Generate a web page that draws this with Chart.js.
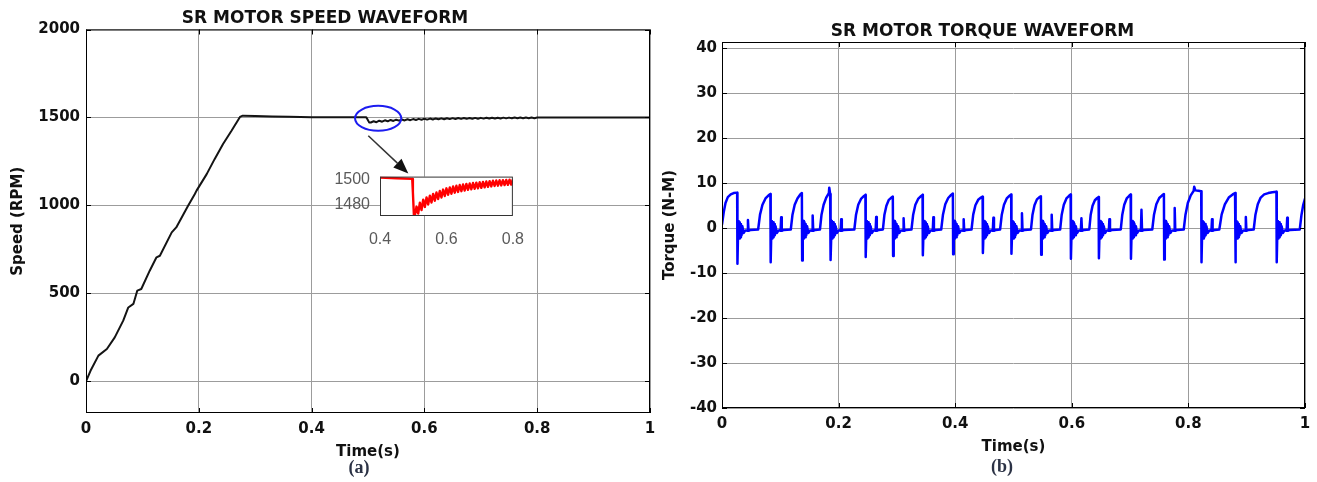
<!DOCTYPE html>
<html>
<head>
<meta charset="utf-8">
<title>SR motor speed and torque</title>
<script src="https://cdn.jsdelivr.net/npm/chart.js@4.4.1/dist/chart.umd.min.js"></script>
<style>
  html, body { margin: 0; padding: 0; background: #fff; overflow: hidden; }
  body { width: 1317px; height: 482px; position: relative; }
  canvas { position: absolute; }
  #speed_chart { left: 0; top: 0; }
  #torque_chart { left: 660px; top: 0; }
  #inset_chart { left: 330px; top: 165px; }
  .caption { position: absolute; font: bold 18px "Liberation Serif", serif; color: #2b3245;
             transform: translate(-50%, -50%); white-space: nowrap; }
</style>
</head>
<body>
<canvas id="speed_chart" width="736" height="482"></canvas>
<canvas id="torque_chart" width="707" height="482"></canvas>
<canvas id="inset_chart" width="200" height="80"></canvas>
<div class="caption" style="left:359px; top:467px;">(a)</div>
<div class="caption" style="left:1002px; top:466px;">(b)</div>
<script>
// SR motor speed (a) and torque (b) waveforms

Chart.defaults.font.family = '"DejaVu Sans", Verdana, sans-serif';

const timeTicks = [0, 0.2, 0.4, 0.6, 0.8, 1];
const speedTicks = [0, 500, 1000, 1500, 2000];
const torqueTicks = [-40, -30, -20, -10, 0, 10, 20, 30, 40];
const insetTimeTicks = [0.4, 0.6, 0.8];
const insetSpeedTicks = [1480, 1500];

// speed (rpm) vs time (s)
const speedRamp = [[0,0],[0.008,60],[0.022,146],[0.037,184],[0.051,250],[0.066,345],[0.075,420],
  [0.084,440],[0.091,516],[0.098,525],[0.113,629],[0.125,705],[0.131,714],[0.152,847],[0.160,875],
  [0.181,998],[0.193,1065],[0.196,1084],[0.214,1178],[0.228,1263],[0.243,1349],[0.258,1424],[0.273,1503]];
const speedFlat = [[0.278,1510],[0.30,1508],[0.33,1506],[0.36,1504],[0.38,1503]];
// load step at 0.5 s, also shown in the inset
const loadStep = [[0.40,1501.5],[0.45,1501],[0.497,1500.5],[0.499,1490],[0.502,1472],[0.505,1471.5],
  [0.510,1478.5],[0.515,1473],[0.520,1481.5],[0.525,1475.8],[0.530,1484],[0.535,1478.2],[0.540,1485.8],
  [0.545,1480.1],[0.550,1487.2],[0.555,1481.7],[0.560,1488.6],[0.565,1483.1],[0.570,1489.7],[0.575,1484.5],
  [0.580,1490.9],[0.585,1485.7],[0.590,1492],[0.595,1486.9],[0.600,1493],[0.605,1487.9],[0.610,1493.7],
  [0.615,1488.7],[0.620,1494.5],[0.625,1489.5],[0.630,1495],[0.635,1490.1],[0.640,1495.6],[0.645,1490.7],
  [0.650,1496],[0.655,1491.2],[0.660,1496.5],[0.665,1491.8],[0.670,1496.8],[0.675,1492.2],[0.680,1497.2],
  [0.685,1492.6],[0.690,1497.5],[0.695,1493],[0.700,1497.8],[0.705,1493.4],[0.710,1498.1],[0.715,1493.8],
  [0.720,1498.4],[0.725,1494.2],[0.730,1498.7],[0.735,1494.5],[0.740,1499],[0.745,1494.9],[0.750,1499.2],
  [0.755,1495.1],[0.760,1499.4],[0.765,1495.3],[0.770,1499.5],[0.775,1495.6],[0.780,1499.7],[0.785,1495.8],
  [0.790,1499.9],[0.795,1496],[0.800,1500]];
const speedTail = [[0.85,1500],[0.90,1500],[1.0,1500]];

// torque (N-m) vs time (s)
const torquePts = [
  [0,0.8],[0.003,3.6],[0.006,5.6],[0.010,6.9],[0.015,7.5],[0.020,7.8],[0.026,7.9],
  [0.0265,-7.9],[0.0275,-1.2],[0.0285,1.6],[0.0295,-2.3],[0.0305,1.3],[0.0315,-2.0],[0.0325,0.9],[0.0335,-1.6],[0.035,0.4],[0.037,-1.1],[0.040,-0.5],[0.0435,-0.6],[0.0445,1.8],[0.0455,-0.6],[0.049,-0.4],
  [0.062,-0.3],[0.0652,3.0],[0.0694,5.2],[0.0746,6.6],[0.0799,7.3],[0.083,7.6],
  [0.0835,-7.6],[0.0845,-1.2],[0.0855,1.6],[0.0865,-2.3],[0.0875,1.3],[0.0885,-2.0],[0.0895,0.9],[0.0905,-1.6],[0.092,0.4],[0.094,-1.1],[0.097,-0.5],[0.1005,-0.6],[0.1015,2.4],[0.1025,-0.6],[0.106,-0.4],
  [0.118,-0.3],[0.1209,3.0],[0.1247,5.2],[0.1294,6.6],[0.1342,7.5],[0.137,7.8],
  [0.1375,-7.2],[0.1385,-1.2],[0.1395,1.6],[0.1405,-2.3],[0.1415,1.3],[0.1425,-2.0],[0.1435,0.9],[0.1445,-1.6],[0.146,0.4],[0.148,-1.1],[0.151,-0.5],[0.1545,-0.6],[0.1555,2.8],[0.1565,-0.6],[0.160,-0.4],
  [0.168,-0.3],[0.1707,3.0],[0.1743,5.2],[0.1788,6.8],[0.1833,7.8],[0.1840,9.0],[0.1855,7.6],[0.186,7.4],
  [0.1865,-7.1],[0.1875,-1.2],[0.1885,1.6],[0.1895,-2.3],[0.1905,1.3],[0.1915,-2.0],[0.1925,0.9],[0.1935,-1.6],[0.195,0.4],[0.197,-1.1],[0.200,-0.5],[0.2035,-0.6],[0.2045,2.0],[0.2055,-0.6],[0.209,-0.4],
  [0.227,-0.3],[0.2299,3.0],[0.2337,5.2],[0.2384,6.5],[0.2432,7.1],[0.246,7.4],
  [0.2465,-6.4],[0.2475,-1.2],[0.2485,1.6],[0.2495,-2.3],[0.2505,1.3],[0.2515,-2.0],[0.2525,0.9],[0.2535,-1.6],[0.255,0.4],[0.257,-1.1],[0.260,-0.5],[0.2635,-0.6],[0.2645,2.5],[0.2655,-0.6],[0.269,-0.4],
  [0.276,-0.3],[0.2786,3.0],[0.282,5.0],[0.2862,6.3],[0.2905,6.8],[0.293,7.0],
  [0.2935,-6.2],[0.2945,-1.2],[0.2955,1.6],[0.2965,-2.3],[0.2975,1.3],[0.2985,-2.0],[0.2995,0.9],[0.3005,-1.6],[0.302,0.4],[0.304,-1.1],[0.307,-0.5],[0.3105,-0.6],[0.3115,2.2],[0.3125,-0.6],[0.316,-0.4],
  [0.325,-0.3],[0.3279,3.0],[0.3317,5.2],[0.3364,6.5],[0.3412,7.1],[0.344,7.4],
  [0.3445,-6.0],[0.3455,-1.2],[0.3465,1.6],[0.3475,-2.3],[0.3485,1.3],[0.3495,-2.0],[0.3505,0.9],[0.3515,-1.6],[0.353,0.4],[0.355,-1.1],[0.358,-0.5],[0.3615,-0.6],[0.3625,2.4],[0.3635,-0.6],[0.367,-0.4],
  [0.376,-0.3],[0.379,3.0],[0.383,5.3],[0.388,6.7],[0.393,7.4],[0.396,7.7],
  [0.3965,-5.8],[0.3975,-1.2],[0.3985,1.6],[0.3995,-2.3],[0.4005,1.3],[0.4015,-2.0],[0.4025,0.9],[0.4035,-1.6],[0.405,0.4],[0.407,-1.1],[0.410,-0.5],[0.4135,-0.6],[0.4145,2.0],[0.4155,-0.6],[0.419,-0.4],
  [0.428,-0.3],[0.4309,3.0],[0.4347,5.1],[0.4394,6.3],[0.4442,6.8],[0.447,7.0],
  [0.4475,-5.5],[0.4485,-1.2],[0.4495,1.6],[0.4505,-2.3],[0.4515,1.3],[0.4525,-2.0],[0.4535,0.9],[0.4545,-1.6],[0.456,0.4],[0.458,-1.1],[0.461,-0.5],[0.4645,-0.6],[0.4655,2.3],[0.4665,-0.6],[0.470,-0.4],
  [0.477,-0.3],[0.4799,3.0],[0.4837,5.2],[0.4884,6.6],[0.4932,7.2],[0.496,7.5],
  [0.4965,-5.7],[0.4975,-1.2],[0.4985,1.6],[0.4995,-2.3],[0.5005,1.3],[0.5015,-2.0],[0.5025,0.9],[0.5035,-1.6],[0.505,0.4],[0.507,-1.1],[0.510,-0.5],[0.5135,-0.6],[0.5145,3.3],[0.5155,-0.6],[0.519,-0.4],
  [0.530,-0.3],[0.5326,3.0],[0.536,5.1],[0.5402,6.4],[0.5445,6.9],[0.547,7.1],
  [0.5475,-5.9],[0.5485,-1.2],[0.5495,1.6],[0.5505,-2.3],[0.5515,1.3],[0.5525,-2.0],[0.5535,0.9],[0.5545,-1.6],[0.556,0.4],[0.558,-1.1],[0.561,-0.5],[0.5645,-0.6],[0.5655,3.0],[0.5665,-0.6],[0.570,-0.4],
  [0.580,-0.3],[0.5827,3.0],[0.5863,5.2],[0.5908,6.6],[0.5953,7.2],[0.598,7.5],
  [0.5985,-6.8],[0.5995,-1.2],[0.6005,1.6],[0.6015,-2.3],[0.6025,1.3],[0.6035,-2.0],[0.6045,0.9],[0.6055,-1.6],[0.607,0.4],[0.609,-1.1],[0.612,-0.5],[0.6155,-0.6],[0.6165,2.2],[0.6175,-0.6],[0.621,-0.4],
  [0.630,-0.3],[0.6324,3.0],[0.6356,5.0],[0.6396,6.2],[0.6436,6.7],[0.646,6.9],
  [0.6465,-6.7],[0.6475,-1.2],[0.6485,1.6],[0.6495,-2.3],[0.6505,1.3],[0.6515,-2.0],[0.6525,0.9],[0.6535,-1.6],[0.655,0.4],[0.657,-1.1],[0.660,-0.5],[0.6635,-0.6],[0.6645,2.0],[0.6655,-0.6],[0.669,-0.4],
  [0.684,-0.3],[0.6866,3.0],[0.690,5.2],[0.6942,6.6],[0.6985,7.2],[0.701,7.5],
  [0.7015,-6.8],[0.7025,-1.2],[0.7035,1.6],[0.7045,-2.3],[0.7055,1.3],[0.7065,-2.0],[0.7075,0.9],[0.7085,-1.6],[0.710,0.4],[0.712,-1.1],[0.715,-0.5],[0.7185,-0.6],[0.7195,4.1],[0.7205,-0.6],[0.724,-0.4],
  [0.738,-0.3],[0.741,3.0],[0.745,5.3],[0.750,6.7],[0.755,7.3],[0.758,7.6],
  [0.7585,-7.0],[0.7595,-1.2],[0.7605,1.6],[0.7615,-2.3],[0.7625,1.3],[0.7635,-2.0],[0.7645,0.9],[0.7655,-1.6],[0.767,0.4],[0.769,-1.1],[0.772,-0.5],[0.7755,-0.6],[0.7765,4.5],[0.7775,-0.6],[0.781,-0.4],
  [0.792,-0.3],[0.795,3.0],[0.799,5.6],[0.804,7.3],[0.809,8.3],[0.810,9.2],[0.812,8.4],[0.817,8.3],[0.822,8.2],
  [0.8225,-7.6],[0.8235,-1.2],[0.8245,1.6],[0.8255,-2.3],[0.8265,1.3],[0.8275,-2.0],[0.8285,0.9],[0.8295,-1.6],[0.831,0.4],[0.833,-1.1],[0.836,-0.5],[0.8395,-0.6],[0.8405,2.0],[0.8415,-0.6],[0.845,-0.4],
  [0.853,-0.3],[0.857,3.0],[0.8625,5.3],[0.8692,6.8],[0.876,7.5],[0.880,7.8],
  [0.8805,-7.6],[0.8815,-1.2],[0.8825,1.6],[0.8835,-2.3],[0.8845,1.3],[0.8855,-2.0],[0.8865,0.9],[0.8875,-1.6],[0.889,0.4],[0.891,-1.1],[0.894,-0.5],[0.8975,-0.6],[0.8985,2.5],[0.8995,-0.6],[0.903,-0.4],
  [0.912,-0.3],[0.915,3.0],[0.919,5.3],[0.924,6.8],[0.930,7.5],[0.937,7.8],[0.944,8.0],[0.951,8.1],
  [0.9515,-7.6],[0.9525,-1.2],[0.9535,1.6],[0.9545,-2.3],[0.9555,1.3],[0.9565,-2.0],[0.9575,0.9],[0.9585,-1.6],[0.960,0.4],[0.962,-1.1],[0.965,-0.5],[0.9685,-0.6],[0.9695,2.3],[0.9705,-0.6],[0.974,-0.4],
  [0.991,-0.3],[0.994,3.0],[0.997,5.2],[1.0,6.6]
];

// blue ring round the dip and the arrow to the inset (data units)
const zoomRing = { t: 0.518, v: 1495, dt: 0.041, dv: 71 };
const zoomArrow = { t0: 0.5005, v0: 1396, t1: 0.5715, v1: 1182 };

const gridColor = '#9c9c9c';
const inkColor = '#111111';

// MATLAB-like box with small inward ticks
function boxPlugin(color, tickLen) {
  return {
    id: 'box',
    afterDatasetsDraw(chart) {
      const {ctx, chartArea: a, scales} = chart;
      ctx.save();
      ctx.strokeStyle = color;
      ctx.lineWidth = 1;
      ctx.strokeRect(a.left + 0.5, a.top + 0.5, a.right - a.left - 1, a.bottom - a.top - 1);
      if (tickLen > 0) {
        ctx.beginPath();
        scales.x.ticks.forEach(t => {
          const px = Math.round(scales.x.getPixelForValue(t.value)) + 0.5;
          ctx.moveTo(px, a.bottom); ctx.lineTo(px, a.bottom - tickLen);
          ctx.moveTo(px, a.top); ctx.lineTo(px, a.top + tickLen);
        });
        scales.y.ticks.forEach(t => {
          const py = Math.round(scales.y.getPixelForValue(t.value)) + 0.5;
          ctx.moveTo(a.left, py); ctx.lineTo(a.left + tickLen, py);
          ctx.moveTo(a.right, py); ctx.lineTo(a.right - tickLen, py);
        });
        ctx.stroke();
      }
      ctx.restore();
    }
  };
}

const markPlugin = {
  id: 'marks',
  afterDatasetsDraw(chart) {
    const {ctx, scales: {x, y}} = chart;
    const cx = x.getPixelForValue(zoomRing.t), cy = y.getPixelForValue(zoomRing.v);
    const rx = x.getPixelForValue(zoomRing.t + zoomRing.dt) - cx;
    const ry = cy - y.getPixelForValue(zoomRing.v + zoomRing.dv);
    ctx.save();
    ctx.strokeStyle = '#1c1cf0';
    ctx.lineWidth = 2;
    ctx.beginPath();
    ctx.ellipse(cx, cy, rx, ry, 0, 0, 2 * Math.PI);
    ctx.stroke();

    const x0 = x.getPixelForValue(zoomArrow.t0), y0 = y.getPixelForValue(zoomArrow.v0);
    const x1 = x.getPixelForValue(zoomArrow.t1), y1 = y.getPixelForValue(zoomArrow.v1);
    const ang = Math.atan2(y1 - y0, x1 - x0);
    const headLen = 15, headHalf = 6;
    const bx = x1 - headLen * Math.cos(ang), by = y1 - headLen * Math.sin(ang);
    ctx.strokeStyle = '#333';
    ctx.lineWidth = 1.5;
    ctx.beginPath();
    ctx.moveTo(x0, y0); ctx.lineTo(bx, by);
    ctx.stroke();
    ctx.fillStyle = '#111';
    ctx.beginPath();
    ctx.moveTo(x1, y1);
    ctx.lineTo(bx + headHalf * Math.sin(ang), by - headHalf * Math.cos(ang));
    ctx.lineTo(bx - headHalf * Math.sin(ang), by + headHalf * Math.cos(ang));
    ctx.closePath();
    ctx.fill();
    ctx.restore();
  }
};

const whitePlot = {
  id: 'whitePlot',
  beforeDraw(chart) {
    const {ctx, chartArea: a} = chart;
    ctx.save();
    ctx.fillStyle = '#fff';
    ctx.fillRect(a.left, a.top, a.right - a.left, a.bottom - a.top);
    ctx.restore();
  }
};

function setTicks(values) {
  return scale => { scale.ticks = values.map(v => ({value: v})); };
}

function mainScales(o) {
  return {
    x: {
      type: 'linear', min: 0, max: 1,
      afterBuildTicks: setTicks(timeTicks),
      afterFit: s => { s.height = o.xHeight; },
      grid: {color: gridColor, drawTicks: false},
      border: {display: false},
      ticks: {padding: o.xPad, color: inkColor, maxRotation: 0, font: {size: 15, weight: 'bold'},
              callback: v => String(v)},
      title: {display: true, text: 'Time(s)', color: inkColor, font: {size: 15, weight: 'bold'},
              padding: {top: 0, bottom: o.xTitlePad}}
    },
    y: {
      type: 'linear', min: o.yMin, max: o.yMax,
      afterBuildTicks: setTicks(o.yTicks),
      afterFit: s => { s.width = o.yWidth; },
      grid: {color: gridColor, drawTicks: false},
      border: {display: false},
      ticks: {padding: o.yPad, color: inkColor, font: {size: 15, weight: 'bold'}, callback: v => String(v)},
      title: {display: true, text: o.yTitle, color: inkColor, font: {size: 15, weight: 'bold'},
              padding: {top: o.yTitlePad, bottom: 0}}
    }
  };
}

const speedChart = new Chart(document.getElementById('speed_chart').getContext('2d'), {
  type: 'line',
  data: {
    datasets: [{
      data: speedRamp.concat(speedFlat, loadStep, speedTail),
      borderColor: '#141414', borderWidth: 2, pointRadius: 0, tension: 0, borderJoinStyle: 'round'
    }]
  },
  options: {
    responsive: false, animation: false, devicePixelRatio: 1,
    layout: {padding: {left: 0, right: 86, top: 0, bottom: 0}},
    plugins: {
      legend: {display: false}, tooltip: {enabled: false},
      title: {display: true, text: 'SR MOTOR SPEED WAVEFORM', color: inkColor,
              font: {size: 17, weight: 'bold'}, padding: {top: 8.4, bottom: 0.7}}
    },
    scales: mainScales({xHeight: 69, xPad: 7, xTitlePad: 21, yMin: -180, yMax: 2000, yTicks: speedTicks,
                        yWidth: 86, yPad: 6, yTitle: 'Speed (RPM)', yTitlePad: 9})
  },
  plugins: [boxPlugin('#000', 5), markPlugin]
});

const torqueChart = new Chart(document.getElementById('torque_chart').getContext('2d'), {
  type: 'line',
  data: {
    datasets: [{
      data: torquePts,
      borderColor: '#0000ff', borderWidth: 2.5, pointRadius: 0, tension: 0, borderJoinStyle: 'round'
    }]
  },
  options: {
    responsive: false, animation: false, devicePixelRatio: 1,
    layout: {padding: {left: 0, right: 62, top: 0, bottom: 0}},
    plugins: {
      legend: {display: false}, tooltip: {enabled: false},
      title: {display: true, text: 'SR MOTOR TORQUE WAVEFORM', color: inkColor,
              font: {size: 17, weight: 'bold'}, padding: {top: 21.6, bottom: 0}}
    },
    scales: mainScales({xHeight: 74, xPad: 7, xTitlePad: 26, yMin: -40, yMax: 41.4, yTicks: torqueTicks,
                        yWidth: 62, yPad: 5, yTitle: 'Torque (N-M)', yTitlePad: 1.5})
  },
  plugins: [boxPlugin('#000', 5)]
});

const insetChart = new Chart(document.getElementById('inset_chart').getContext('2d'), {
  type: 'line',
  data: {
    datasets: [{
      data: loadStep,
      borderColor: '#ff0000', borderWidth: 2.4, pointRadius: 0, tension: 0, borderJoinStyle: 'round'
    }]
  },
  options: {
    responsive: false, animation: false, devicePixelRatio: 1,
    layout: {padding: {left: 0, right: 17, top: 10, bottom: 0}},
    plugins: {legend: {display: false}, tooltip: {enabled: false}},
    scales: {
      x: {
        type: 'linear', min: 0.4, max: 0.8,
        afterBuildTicks: setTicks(insetTimeTicks),
        afterFit: s => { s.height = 29; },
        grid: {display: false}, border: {display: false},
        ticks: {padding: 6, color: '#5a5a5a', maxRotation: 0,
                font: {family: '"Liberation Sans", Arial, sans-serif', size: 16}, callback: v => String(v)}
      },
      y: {
        type: 'linear', min: 1471, max: 1502.3,
        afterBuildTicks: setTicks(insetSpeedTicks),
        afterFit: s => { s.width = 50; },
        grid: {display: false}, border: {display: false},
        ticks: {padding: 2, color: '#5a5a5a',
                font: {family: '"Liberation Sans", Arial, sans-serif', size: 16}, callback: v => String(v)}
      }
    }
  },
  plugins: [whitePlot, boxPlugin('#333', 0)]
});
</script>
</body>
</html>
